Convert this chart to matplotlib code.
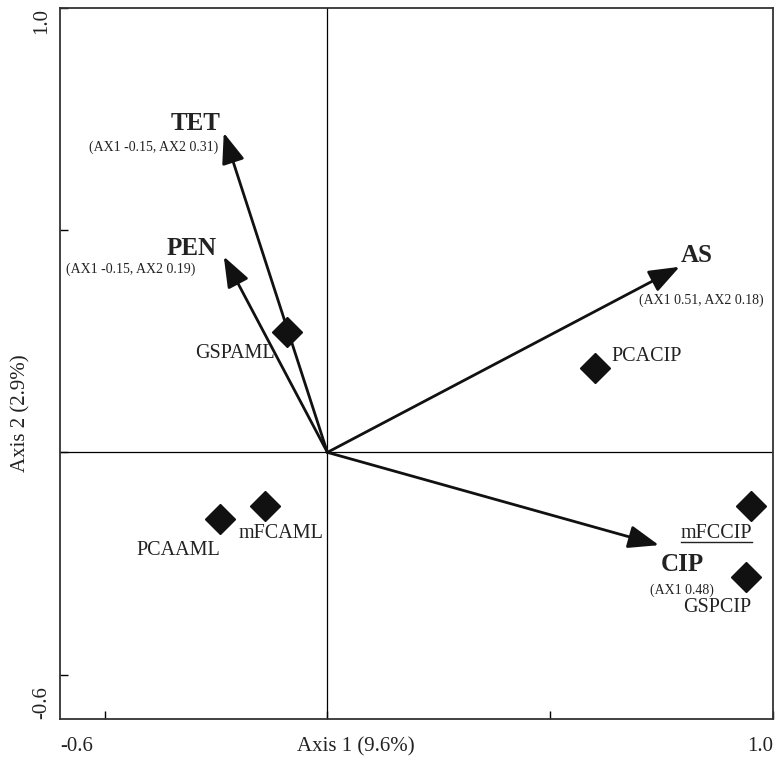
import matplotlib
matplotlib.use("Agg")
import matplotlib.pyplot as plt
from matplotlib.lines import Line2D

plt.rcParams['font.family'] = ['Liberation Serif', 'DejaVu Serif']

# sample scores (axis 1, axis 2)
samples = ['GSPAML', 'PCACIP', 'mFCCIP', 'GSPCIP', 'PCAAML', 'mFCAML']
samp_ax1 = [-0.09, 0.60, 0.95, 0.94, -0.24, -0.14]
samp_ax2 = [0.27, 0.19, -0.12, -0.28, -0.15, -0.12]

# environmental variables, correlation with axes
variables = ['TET', 'PEN', 'AS', 'CIP']
var_ax1 = [-0.15, -0.15, 0.51, 0.48]
var_ax2 = [0.31, 0.19, 0.18, -0.09]
var_text = ['(AX1 -0.15, AX2 0.31)', '(AX1 -0.15, AX2 0.19)',
            '(AX1 0.51, AX2 0.18)', '(AX1 0.48)']

# arrows are stretched to fill the plot
arrow_scale = (1.55, 2.32)

# label offsets in pixels
samp_off = {'GSPAML': (-52, -21), 'PCACIP': (52, 11), 'mFCCIP': (-34, -28),
            'GSPCIP': (-29, -31), 'PCAAML': (-42, -31), 'mFCAML': (16, -28)}
name_off = {'TET': (-28, 9), 'PEN': (-32, 8), 'AS': (17, 11), 'CIP': (23, -19)}
val_off = {'TET': (-70, -14), 'PEN': (-93, -13), 'AS': (22, -33), 'CIP': (23, -45)}

fig = plt.figure(figsize=(7.77, 7.60), dpi=100)
ax = fig.add_axes([60 / 777, 41 / 760, 713 / 777, 711 / 760])
ax.set_xlim(-0.6, 1.0)
ax.set_ylim(-0.6, 1.0)

for s in ax.spines.values():
    s.set_linewidth(1.3)
    s.set_color('#333333')

ax.axvline(0, color='black', lw=0.9, zorder=1)
ax.axhline(0, color='black', lw=0.9, zorder=1)

ax.set_xticks([-0.5, 0, 0.5, 1.0])
ax.set_yticks([-0.5, 0, 0.5, 1.0])
ax.tick_params(direction='in', length=6, width=1.0, labelbottom=False, labelleft=False)

# only the range ends are labelled
tick_font = dict(fontsize=15, color='#222222')
ax.text(0, -0.026, '-0.6', transform=ax.transAxes, ha='left', va='top', **tick_font)
ax.text(1, -0.026, '1.0', transform=ax.transAxes, ha='right', va='top', **tick_font)
ax.text(-0.012, 1, '1.0', transform=ax.transAxes, ha='right', va='top', rotation=90, **tick_font)
ax.text(-0.012, 0, '-0.6', transform=ax.transAxes, ha='right', va='bottom', rotation=90, **tick_font)

ax.text(0.415, -0.026, 'Axis 1 (9.6%)', transform=ax.transAxes, ha='center', va='top', **tick_font)
ax.text(-0.042, 0.43, 'Axis 2 (2.9%)', transform=ax.transAxes, ha='right', va='center',
        rotation=90, **tick_font)

ax.plot(samp_ax1, samp_ax2, 'D', ms=15.5, color='#111111', zorder=4)

texts = {}
for name, x, y in zip(samples, samp_ax1, samp_ax2):
    texts[name] = ax.annotate(name, (x, y), xytext=samp_off[name], textcoords='offset pixels',
                              ha='center', va='center', fontsize=14.5, color='#222222')

for name, x, y, lab in zip(variables, var_ax1, var_ax2, var_text):
    tip = (x * arrow_scale[0], y * arrow_scale[1])
    ax.annotate('', xy=tip, xytext=(0, 0),
                arrowprops=dict(arrowstyle='-|>,head_length=0.85,head_width=0.32', lw=2,
                                color='#111111', shrinkA=0, shrinkB=0, mutation_scale=22),
                zorder=3)
    ax.annotate(name, tip, xytext=name_off[name], textcoords='offset pixels',
                ha='center', va='center', fontsize=18, fontweight='bold', color='#222222')
    ax.annotate(lab, tip, xytext=val_off[name], textcoords='offset pixels',
                ha='center', va='center', fontsize=10, color='#222222')

# underline the mFCCIP label
fig.canvas.draw()
bb = texts['mFCCIP'].get_window_extent()
inv = fig.transFigure.inverted()
(x0, y0), (x1, _) = inv.transform([(bb.x0, bb.y0 + 1), (bb.x1, bb.y0 + 1)])
fig.add_artist(Line2D([x0, x1], [y0, y0], transform=fig.transFigure, color='#222222', lw=1))

fig.savefig('out.png', dpi=100)
